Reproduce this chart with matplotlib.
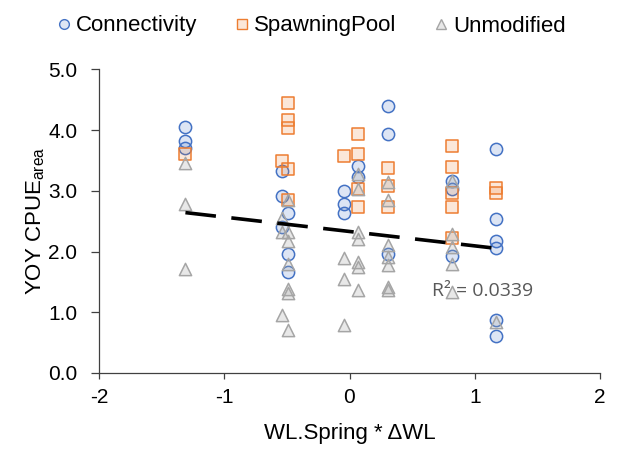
import matplotlib
matplotlib.use("Agg")
import matplotlib.pyplot as plt
from matplotlib.lines import Line2D

# ---- data ----
conn_x = [-1.31, -1.31, -1.31, -0.54, -0.54, -0.54, -0.49, -0.49, -0.49,
          -0.04, -0.04, -0.04, 0.07, 0.07, 0.31, 0.31, 0.31,
          0.82, 0.82, 0.82, 1.17, 1.17, 1.17, 1.17, 1.17, 1.17]
conn_y = [4.05, 3.82, 3.70, 3.33, 2.92, 2.40, 2.64, 1.96, 1.66,
          3.00, 2.79, 2.63, 3.41, 3.22, 4.39, 3.94, 1.96,
          3.16, 3.03, 1.93, 3.68, 2.54, 2.18, 2.06, 0.87, 0.61]

spawn_x = [-1.31, -0.54, -0.49, -0.49, -0.49, -0.49, -0.49,
           -0.04, 0.07, 0.07, 0.07, 0.07, 0.31, 0.31, 0.31,
           0.82, 0.82, 0.82, 0.82, 0.82, 1.17, 1.17]
spawn_y = [3.61, 3.49, 4.44, 4.16, 4.04, 3.36, 2.84,
           3.57, 3.94, 3.61, 3.03, 2.74, 3.37, 3.08, 2.74,
           3.74, 3.39, 2.97, 2.74, 2.23, 3.05, 2.97]

unmod_x = [-1.31, -1.31, -1.31, -0.54, -0.54, -0.54,
           -0.49, -0.49, -0.49, -0.49, -0.49, -0.49, -0.49,
           -0.04, -0.04, -0.04,
           0.07, 0.07, 0.07, 0.07, 0.07, 0.07, 0.07,
           0.31, 0.31, 0.31, 0.31, 0.31, 0.31, 0.31,
           0.82, 0.82, 0.82, 0.82, 0.82, 1.17]
unmod_y = [3.46, 2.78, 1.72, 2.56, 2.32, 0.95,
           2.84, 2.32, 2.18, 1.80, 1.39, 1.31, 0.70,
           1.90, 1.54, 0.79,
           3.27, 3.03, 2.32, 2.21, 1.83, 1.74, 1.37,
           3.14, 2.84, 2.10, 1.91, 1.77, 1.42, 1.36,
           3.16, 2.29, 2.07, 1.80, 1.34, 0.84]

series_names = ["Connectivity", "SpawningPool", "Unmodified"]
trend_x = [-1.31, 1.22]
trend_slope = -0.237
trend_intercept = 2.33
r2_label = "R² = 0.0339"

x_ticks = [-2, -1, 0, 1, 2]
y_ticks = [0.0, 1.0, 2.0, 3.0, 4.0, 5.0]

# ---- styles ----
plt.rcParams['font.family'] = ['Liberation Sans', 'DejaVu Sans']
blue_e, blue_f = "#4472C4", (0.27, 0.45, 0.77, 0.18)
orng_e, orng_f = "#ED7D31", (0.93, 0.49, 0.19, 0.18)
grey_e, grey_f = "#A5A5A5", (0.65, 0.65, 0.65, 0.25)

fig = plt.figure(figsize=(6.21, 4.5), dpi=100)
ax = fig.add_axes([99/621, 77/450, 501/621, 303.7/450])

ms = 78
ax.scatter(conn_x, conn_y, s=ms, marker='o', facecolors=[blue_f], edgecolors=blue_e, linewidths=1.1, zorder=3)
ax.scatter(spawn_x, spawn_y, s=ms, marker='s', facecolors=[orng_f], edgecolors=orng_e, linewidths=1.1, zorder=4)
ax.scatter(unmod_x, unmod_y, s=ms, marker='^', facecolors=[grey_f], edgecolors=grey_e, linewidths=1.1, zorder=5)

ty = [trend_intercept + trend_slope * xv for xv in trend_x]
ax.plot(trend_x, ty, color='black', lw=2.6, dashes=(8.5, 4.3), zorder=6)

ax.text(0.66, 1.35, r2_label, family=['Open Sans', 'DejaVu Sans'], fontsize=14,
        color='#595959', va='center', ha='left', zorder=7)

ax.set_xlim(-2, 2)
ax.set_ylim(0, 5)
ax.set_xticks(x_ticks)
ax.set_xticklabels([str(v) for v in x_ticks])
ax.set_yticks(y_ticks)
ax.set_yticklabels([f"{v:.1f}" for v in y_ticks])

for s in ['top', 'right']:
    ax.spines[s].set_visible(False)
for s in ['left', 'bottom']:
    ax.spines[s].set_color('#404040')
    ax.spines[s].set_linewidth(0.9)
ax.tick_params(axis='y', length=5.5, width=0.9, color='#404040', pad=10, labelsize=15)
ax.tick_params(axis='x', length=4, width=0.9, color='#404040', pad=7, labelsize=15)

ax.set_xlabel("WL.Spring * ΔWL", fontsize=16, labelpad=11)
ax.set_ylabel("YOY CPUE$_{\\mathregular{area}}$", fontsize=16, labelpad=1)

handles = [
    Line2D([], [], ls='none', marker='o', ms=7, mfc=blue_f, mec=blue_e, mew=1.0),
    Line2D([], [], ls='none', marker='s', ms=7, mfc=orng_f, mec=orng_e, mew=1.0),
    Line2D([], [], ls='none', marker='^', ms=7, mfc=grey_f, mec=grey_e, mew=1.0),
]
fig.legend(handles, series_names, loc='center', bbox_to_anchor=(0.5, 1 - 26/450),
           ncol=3, frameon=False, fontsize=16, handlelength=0.8, handletextpad=0.15,
           columnspacing=1.6)

fig.savefig("out.png", dpi=100)
